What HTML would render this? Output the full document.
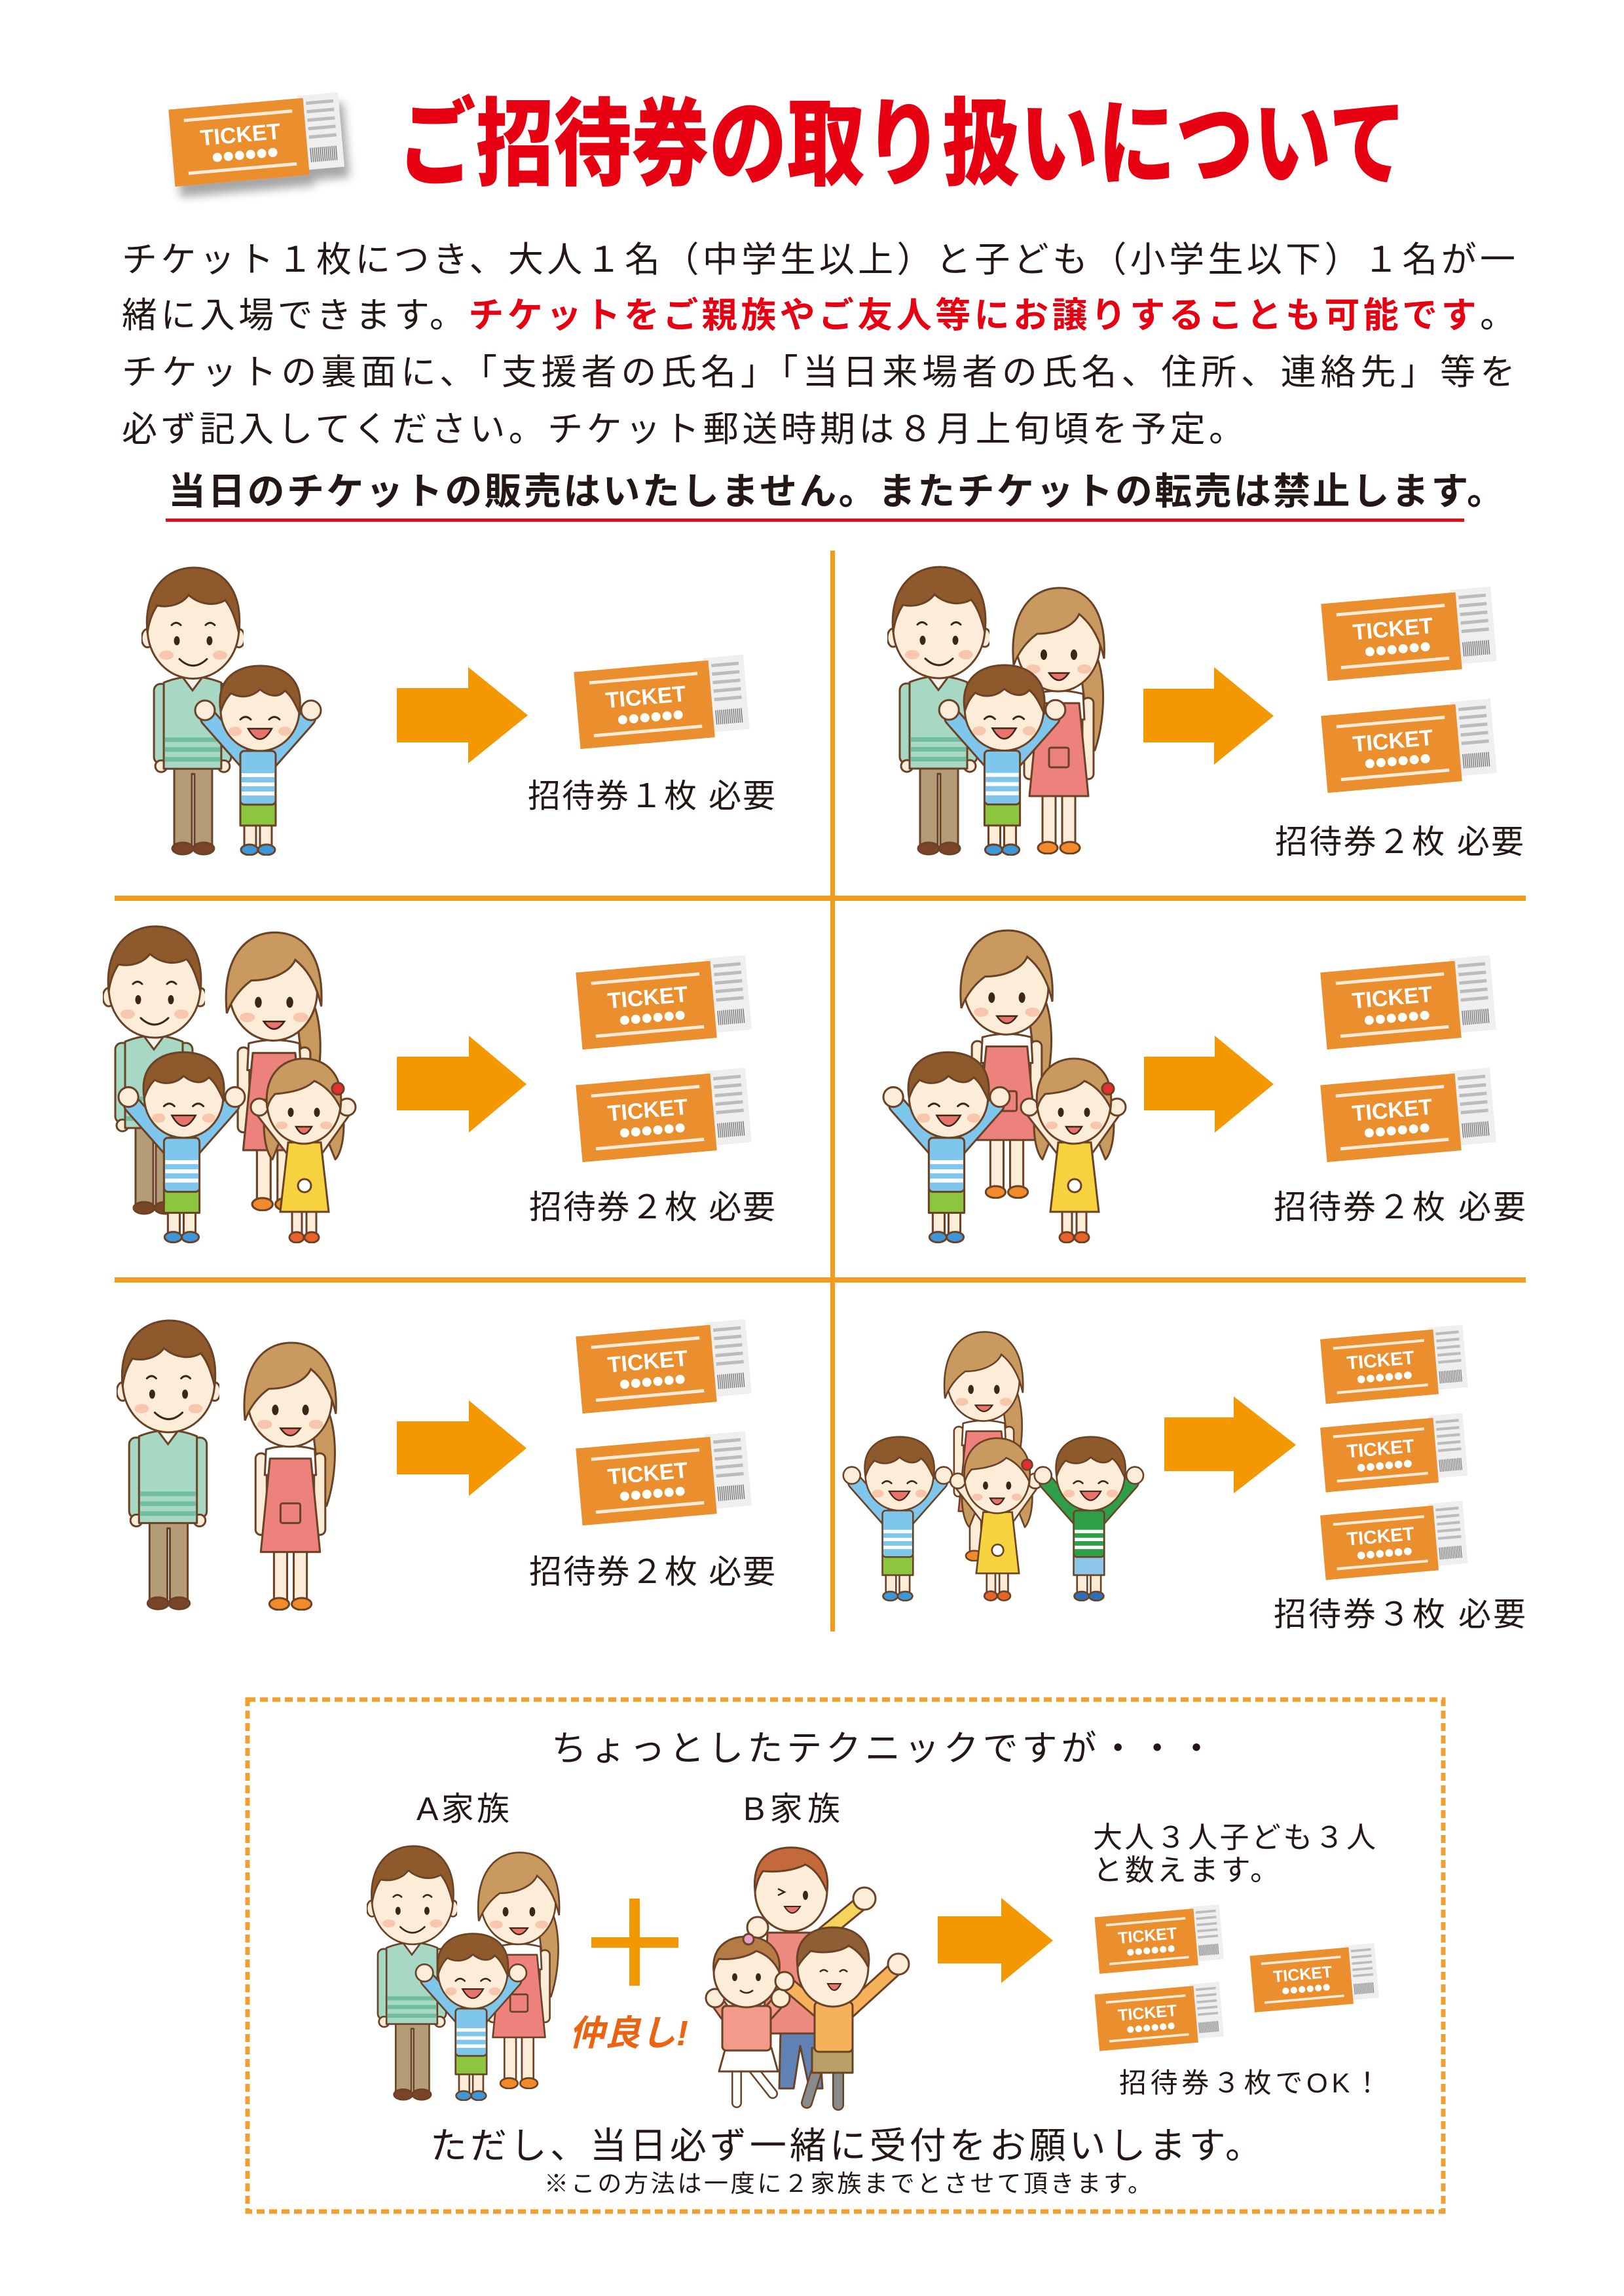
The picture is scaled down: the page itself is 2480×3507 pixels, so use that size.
<!DOCTYPE html>
<html><head><meta charset="utf-8">
<style>
html,body{margin:0;padding:0;background:#fff;}
svg{display:block;}
text{font-family:"Liberation Sans","Noto Sans CJK JP",sans-serif;}
</style></head><body>
<svg width="2480" height="3507" viewBox="0 0 2480 3507" xmlns="http://www.w3.org/2000/svg" xmlns:xlink="http://www.w3.org/1999/xlink">
<defs>
<filter id="sh" x="-20%" y="-30%" width="150%" height="180%"><feDropShadow dx="8" dy="16" stdDeviation="7" flood-color="#000" flood-opacity="0.35"/></filter>

<symbol id="man" viewBox="0 0 156 443">
<g stroke="#6b4226" stroke-width="3" stroke-linejoin="round">
<path d="M50 298H108V428H81V318H77V428H50Z" fill="#b39c76"/>
<ellipse cx="63" cy="432" rx="16" ry="9" fill="#7a4526"/>
<ellipse cx="95" cy="432" rx="16" ry="9" fill="#7a4526"/>
<rect x="19" y="180" width="22" height="122" rx="10" fill="#a6d8c4"/>
<rect x="115" y="180" width="22" height="122" rx="10" fill="#a6d8c4"/>
<circle cx="30" cy="306" r="9" fill="#fdecd8"/>
<circle cx="126" cy="306" r="9" fill="#fdecd8"/>
<path d="M34 178Q78 160 122 178L122 310H34Z" fill="#a6d8c4"/>
</g>
<g fill="#6fbe9f"><rect x="36" y="262" width="84" height="7"/><rect x="36" y="277" width="84" height="7"/><rect x="36" y="292" width="84" height="7"/></g>
<path d="M60 166L78 190L96 166Z" fill="#f5f3ea" stroke="#6b4226" stroke-width="3"/>
<g stroke="#6b4226" stroke-width="3">
<ellipse cx="9" cy="110" rx="9" ry="14" fill="#fdecd8"/>
<ellipse cx="149" cy="110" rx="9" ry="14" fill="#fdecd8"/>
<ellipse cx="79" cy="96" rx="70" ry="76" fill="#fdecd8"/>
<path d="M9 102C2 34 40 2 80 2C122 2 156 34 149 102C144 82 138 64 128 52C110 62 88 58 72 44C62 58 42 64 24 60C16 72 11 86 9 102Z" fill="#8e5a2c"/>
</g>
<g fill="#3e2616"><ellipse cx="54" cy="114" rx="4.5" ry="7"/><ellipse cx="104" cy="114" rx="4.5" ry="7"/></g>
<g fill="#f7c6ad"><ellipse cx="38" cy="136" rx="11" ry="7"/><ellipse cx="120" cy="136" rx="11" ry="7"/></g>
<path d="M58 142Q79 162 100 142M46 90Q53 83 60 90M98 90Q105 83 112 90" fill="none" stroke="#3e2616" stroke-width="3" stroke-linecap="round"/>
</symbol>

<symbol id="woman" viewBox="0 0 154 411">
<g stroke="#6b4226" stroke-width="3" stroke-linejoin="round">
<path d="M116 80C152 110 150 200 132 252C120 220 114 160 108 110Z" fill="#c99a60"/>
<rect x="52" y="316" width="20" height="82" fill="#fdecd8"/>
<rect x="82" y="316" width="20" height="82" fill="#fdecd8"/>
<ellipse cx="60" cy="401" rx="15" ry="9" fill="#f08a2a"/>
<ellipse cx="94" cy="401" rx="15" ry="9" fill="#f08a2a"/>
<rect x="24" y="172" width="17" height="124" rx="8" fill="#fdecd8"/>
<rect x="113" y="172" width="17" height="124" rx="8" fill="#fdecd8"/>
<path d="M40 166Q77 156 114 166L116 205H38Z" fill="#fff"/>
<path d="M46 180H108L122 322H32Z" fill="#ec827b"/>
<rect x="62" y="248" width="30" height="30" rx="3" fill="#ec827b"/>
</g>
<g stroke="#6b4226" stroke-width="3">
<ellipse cx="76" cy="90" rx="64" ry="72" fill="#fdecd8"/>
<path d="M8 122C0 40 36 4 78 4C122 4 150 40 146 112C140 84 128 60 108 44C100 62 74 74 44 74C30 84 16 100 8 122Z" fill="#c99a60"/>
</g>
<g fill="#3e2616"><ellipse cx="54" cy="106" rx="5" ry="8"/><ellipse cx="100" cy="106" rx="5" ry="8"/></g>
<g fill="#f7c6ad"><ellipse cx="38" cy="128" rx="11" ry="7"/><ellipse cx="116" cy="128" rx="11" ry="7"/></g>
<path d="M62 134Q77 156 92 134Z" fill="#e8736c" stroke="#3e2616" stroke-width="2.5"/>
</symbol>

<symbol id="boy" viewBox="0 0 209 294">
<g stroke="#6b4226" stroke-width="3" stroke-linejoin="round">
<rect x="84" y="244" width="18" height="38" fill="#fdecd8"/>
<rect x="108" y="244" width="18" height="38" fill="#fdecd8"/>
<ellipse cx="92" cy="285" rx="13" ry="8" style="fill:var(--sh,#3d97d8)"/>
<ellipse cx="118" cy="285" rx="13" ry="8" style="fill:var(--sh,#3d97d8)"/>
<rect x="78" y="212" width="54" height="36" style="fill:var(--p,#8cc63f)"/>
</g>
<path d="M90 152L30 84M120 152L180 84" stroke="#6b4226" stroke-width="28" stroke-linecap="round"/>
<path d="M90 152L30 84M120 152L180 84" style="stroke:var(--t,#7ec6ec)" stroke-width="22" stroke-linecap="round"/>
<g stroke="#6b4226" stroke-width="3">
<circle cx="24" cy="72" r="15" fill="#fdecd8"/>
<circle cx="186" cy="72" r="15" fill="#fdecd8"/>
<rect x="78" y="134" width="54" height="82" rx="6" style="fill:var(--t,#7ec6ec)"/>
</g>
<g fill="#fff"><rect x="80" y="168" width="50" height="6"/><rect x="80" y="182" width="50" height="6"/><rect x="80" y="196" width="50" height="6"/></g>
<g stroke="#6b4226" stroke-width="3">
<ellipse cx="108" cy="72" rx="60" ry="62" fill="#fdecd8"/>
<path d="M48 74C40 22 74 4 108 4C146 4 176 26 168 76C160 58 154 48 146 42C136 54 120 50 108 40C96 52 78 54 64 46C56 54 52 62 48 74Z" fill="#8e5a2c"/>
</g>
<path d="M78 86Q86 78 94 86M122 86Q130 78 138 86" fill="none" stroke="#3e2616" stroke-width="3" stroke-linecap="round"/>
<g fill="#f7c6ad"><ellipse cx="70" cy="104" rx="10" ry="7"/><ellipse cx="146" cy="104" rx="10" ry="7"/></g>
<path d="M90 100Q108 132 126 100Z" fill="#e8736c" stroke="#3e2616" stroke-width="2.5"/>
</symbol>

<symbol id="girl" viewBox="0 0 170 288">
<g stroke="#6b4226" stroke-width="3" stroke-linejoin="round">
<path d="M34 60C20 110 30 150 40 160L60 110Z" fill="#c99a60"/>
<path d="M142 60C156 110 146 150 136 160L116 110Z" fill="#c99a60"/>
<rect x="70" y="236" width="15" height="40" fill="#fdecd8"/>
<rect x="92" y="236" width="15" height="40" fill="#fdecd8"/>
<ellipse cx="77" cy="279" rx="11" ry="8" fill="#e8632a"/>
<ellipse cx="100" cy="279" rx="11" ry="8" fill="#e8632a"/>
</g>
<path d="M72 150L24 88M106 150L150 88" stroke="#6b4226" stroke-width="20" stroke-linecap="round"/>
<path d="M72 150L24 88M106 150L150 88" stroke="#fdecd8" stroke-width="14" stroke-linecap="round"/>
<g stroke="#6b4226" stroke-width="3">
<circle cx="20" cy="80" r="13" fill="#fdecd8"/>
<circle cx="154" cy="80" r="13" fill="#fdecd8"/>
<path d="M64 134H114L126 240H52Z" fill="#f7d23f"/>
<circle cx="89" cy="200" r="10" fill="#fff"/>
<ellipse cx="88" cy="74" rx="56" ry="62" fill="#fdecd8"/>
<path d="M32 82C26 30 56 6 88 6C122 6 150 30 144 82C136 64 122 48 104 40C92 52 70 58 44 60C38 66 34 74 32 82Z" fill="#c99a60"/>
<circle cx="140" cy="52" r="9" fill="#e0302f"/>
</g>
<g fill="#3e2616"><ellipse cx="68" cy="88" rx="4.5" ry="7"/><ellipse cx="108" cy="88" rx="4.5" ry="7"/></g>
<g fill="#f7c6ad"><ellipse cx="54" cy="108" rx="9" ry="6"/><ellipse cx="122" cy="108" rx="9" ry="6"/></g>
<path d="M76 110Q88 132 100 110Z" fill="#e8736c" stroke="#3e2616" stroke-width="2.5"/>
</symbol>
</defs>

<rect width="2480" height="3507" fill="#fff"/>

<!-- Header ticket -->
<g filter="url(#sh)"><g transform="translate(262,156)"><g transform="rotate(-5 130 60)">
<rect x="198" y="-4" width="62" height="114" fill="#efefef"/>
<g fill="#bcbcbc"><rect x="210" y="6" width="42" height="5"/><rect x="210" y="19" width="42" height="5"/><rect x="210" y="32" width="42" height="5"/><rect x="210" y="45" width="42" height="5"/><rect x="210" y="58" width="42" height="5"/></g>
<line x1="210" y1="88" x2="252" y2="88" stroke="#7a7a7a" stroke-width="22" stroke-dasharray="1.5 1.5"/>
<rect width="206" height="118" fill="#eb8e2e"/>
<rect x="22" y="16" width="166" height="5" fill="#fcebd6"/><rect x="22" y="97" width="166" height="5" fill="#fcebd6"/>
<text x="106" y="59" font-size="34" font-weight="bold" fill="#fff" text-anchor="middle">TICKET</text>
<g fill="#fff"><circle cx="68" cy="79" r="7"/><circle cx="85" cy="79" r="7"/><circle cx="102" cy="79" r="7"/><circle cx="119" cy="79" r="7"/><circle cx="136" cy="79" r="7"/><circle cx="153" cy="79" r="7"/></g>
</g></g></g>

<!-- Title -->
<text x="608" y="271" font-size="146" font-weight="900" fill="#e60012" textLength="1540" lengthAdjust="spacingAndGlyphs">ご招待券の取り扱いについて</text>

<!-- Body text -->
<g fill="#231815" font-size="54">
<text x="186" y="415" textLength="2128">チケット１枚につき、大人１名（中学生以上）と子ども（小学生以下）１名が一</text>
<text x="186" y="500" textLength="2128">緒に入場できます。<tspan fill="#e60012" font-weight="bold">チケットをご親族やご友人等にお譲りすることも可能です</tspan>。</text>
<text x="186" y="587" textLength="2128">チケットの裏面に、「支援者の氏名」「当日来場者の氏名、住所、連絡先」等を</text>
<text x="186" y="674" textLength="1714">必ず記入してください。チケット郵送時期は８月上旬頃を予定。</text>
</g>
<text x="257" y="770" font-size="57" font-weight="bold" fill="#231815" textLength="2040">当日のチケットの販売はいたしません。またチケットの転売は禁止します。</text>
<rect x="253" y="792" width="1983" height="5" fill="#d7141c"/>

<!-- Grid lines -->
<g fill="#f29b1d">
<rect x="1268" y="841" width="7" height="1651"/>
<rect x="175" y="1368" width="2155" height="8"/>
<rect x="175" y="1951" width="2155" height="8"/>
</g>

<!-- Arrows -->
<g fill="#f39800">
<path d="M606 1051H715V1019L806 1092.5L715 1166V1134H606Z"/>
<path d="M1746 1052H1854V1019L1945 1093.5L1854 1168V1134H1746Z"/>
<path d="M606 1614H716V1582L804 1656L716 1730V1696H606Z"/>
<path d="M1747 1614H1855V1582L1945 1656L1855 1730V1696H1747Z"/>
<path d="M606 2171H716V2139L804 2212L716 2285V2252H606Z"/>
<path d="M1778 2165H1884V2133L1979 2207L1884 2281V2247H1778Z"/>
<path d="M1432 2927H1529V2899L1608 2964L1529 3029V2999H1432Z"/>
</g>

<!-- People -->
<use href="#man" x="216" y="865" width="156" height="442"/>
<use href="#boy" x="289" y="1013" width="209" height="294"/>

<use href="#man" x="1355" y="864" width="156" height="443"/>
<use href="#woman" x="1540" y="894" width="154" height="411"/>
<use href="#boy" x="1425" y="1012" width="210" height="295"/>

<use href="#man" x="157" y="1413" width="156" height="443"/>
<use href="#woman" x="338" y="1420" width="161" height="430"/>
<use href="#boy" x="172" y="1603" width="210" height="296"/>
<use href="#girl" x="376" y="1611" width="170" height="288"/>

<use href="#woman" x="1460" y="1417" width="155" height="414"/>
<use href="#boy" x="1340" y="1603" width="210" height="296"/>
<use href="#girl" x="1552" y="1611" width="170" height="288"/>

<use href="#man" x="178" y="2015" width="157" height="445"/>
<use href="#woman" x="366" y="2047" width="155" height="413"/>

<use href="#woman" x="1436" y="2031" width="133" height="354"/>
<use href="#boy" x="1280" y="2191" width="181" height="255"/>
<use href="#girl" x="1445" y="2191" width="150" height="255"/>
<use href="#boy" x="1572" y="2191" width="181" height="255" style="--t:#2e9e48;--p:#8ec6ea;--sh:#2f6fb8"/>

<use href="#man" x="560" y="2818" width="138" height="391"/>
<use href="#woman" x="724" y="2826" width="137" height="365"/>
<use href="#boy" x="627" y="2950" width="184" height="259"/>

<!-- B family -->
<g stroke="#6b4226" stroke-width="3" stroke-linejoin="round" stroke-linecap="round">
<path d="M1248 2962L1316 2906" stroke-width="24"/>
<path d="M1248 2962L1316 2906" stroke="#f6d35a" stroke-width="18"/>
<circle cx="1320" cy="2900" r="17" fill="#fdecd8"/>
<path d="M1192 3100H1250L1256 3190H1236L1222 3125L1212 3190H1190Z" fill="#6182b5"/>
<path d="M1172 2952H1252L1260 3106H1166Z" fill="#ee8b80"/>
<circle cx="1157" cy="2944" r="16" fill="#fdecd8"/>
<ellipse cx="1208" cy="2888" rx="55" ry="62" fill="#fdecd8"/>
<path d="M1153 2890C1148 2840 1175 2822 1208 2822C1245 2822 1268 2845 1263 2890C1255 2870 1245 2855 1230 2848C1210 2858 1185 2860 1165 2858C1158 2868 1155 2878 1153 2890Z" fill="#c4693c"/>
<path d="M1125 3160V3212M1150 3160L1180 3198" stroke-width="16"/>
<path d="M1125 3160V3212M1150 3160L1180 3198" stroke="#fff" stroke-width="11"/>
<path d="M1108 3128H1178L1188 3164H1098Z" fill="#fff"/>
<path d="M1108 3076L1094 3056M1172 3076L1190 3056" stroke-width="22"/>
<path d="M1108 3076L1094 3056M1172 3076L1190 3056" stroke="#f29b8b" stroke-width="16"/>
<rect x="1103" y="3064" width="74" height="68" rx="6" fill="#f29b8b"/>
<circle cx="1092" cy="3052" r="14" fill="#fdecd8"/>
<circle cx="1192" cy="3052" r="14" fill="#fdecd8"/>
<ellipse cx="1140" cy="3012" rx="50" ry="54" fill="#fdecd8"/>
<path d="M1090 3012C1086 2975 1110 2958 1140 2958C1172 2958 1194 2978 1190 3012C1182 2995 1170 2985 1155 2980C1140 2990 1115 2994 1098 2992C1094 2998 1091 3005 1090 3012Z" fill="#b67a45"/>
<circle cx="1143" cy="2962" r="8" fill="#e9a0c8"/>
<path d="M1248 3160L1232 3212M1280 3160V3215" stroke-width="18"/>
<path d="M1248 3160L1232 3212M1280 3160V3215" stroke="#8a8a8a" stroke-width="13"/>
<rect x="1240" y="3128" width="62" height="38" fill="#b9a068"/>
<path d="M1256 3076L1202 3030M1296 3072L1366 3008" stroke-width="24"/>
<path d="M1256 3076L1202 3030M1296 3072L1366 3008" stroke="#f5b25a" stroke-width="18"/>
<circle cx="1198" cy="3026" r="14" fill="#fdecd8"/>
<circle cx="1372" cy="3000" r="16" fill="#fdecd8"/>
<rect x="1244" y="3058" width="58" height="76" rx="6" fill="#f5b25a"/>
<ellipse cx="1272" cy="3005" rx="54" ry="60" fill="#fdecd8"/>
<path d="M1218 3005C1212 2962 1240 2944 1272 2944C1308 2944 1332 2966 1326 3005C1318 2988 1308 2978 1296 2972C1282 2982 1258 2984 1238 2980C1230 2988 1222 2996 1218 3005Z" fill="#8e5f34"/>
</g>
<g fill="#3e2616">
<ellipse cx="1230" cy="2895" rx="4" ry="7"/><ellipse cx="1122" cy="3020" rx="4" ry="6"/><ellipse cx="1158" cy="3020" rx="4" ry="6"/>
</g>
<path d="M1188 2895L1198 2890L1188 2885M1252 3012Q1258 3006 1264 3012M1282 3012Q1288 3006 1294 3012M1130 3040Q1140 3048 1150 3040" fill="none" stroke="#3e2616" stroke-width="2.5"/>
<path d="M1198 2912Q1210 2932 1222 2912Z" fill="#e8736c" stroke="#3e2616" stroke-width="2"/>
<path d="M1264 3030Q1274 3050 1284 3030Z" fill="#e8736c" stroke="#3e2616" stroke-width="2"/>

<!-- Tickets -->
<g id="tk1" transform="translate(881,1015)"><g transform="rotate(-5 130 60)">
<rect x="198" y="-4" width="62" height="114" fill="#efefef"/>
<g fill="#bcbcbc"><rect x="210" y="6" width="42" height="5"/><rect x="210" y="19" width="42" height="5"/><rect x="210" y="32" width="42" height="5"/><rect x="210" y="45" width="42" height="5"/><rect x="210" y="58" width="42" height="5"/></g>
<line x1="210" y1="88" x2="252" y2="88" stroke="#7a7a7a" stroke-width="22" stroke-dasharray="1.5 1.5"/>
<rect width="206" height="118" fill="#eb8e2e"/>
<rect x="22" y="16" width="166" height="5" fill="#fcebd6"/><rect x="22" y="97" width="166" height="5" fill="#fcebd6"/>
<text x="106" y="59" font-size="34" font-weight="bold" fill="#fff" text-anchor="middle">TICKET</text>
<g fill="#fff"><circle cx="68" cy="79" r="7"/><circle cx="85" cy="79" r="7"/><circle cx="102" cy="79" r="7"/><circle cx="119" cy="79" r="7"/><circle cx="136" cy="79" r="7"/><circle cx="153" cy="79" r="7"/></g>
</g></g>

<g transform="translate(2022,911)"><g transform="rotate(-5 130 60)">
<rect x="198" y="-4" width="62" height="114" fill="#efefef"/>
<g fill="#bcbcbc"><rect x="210" y="6" width="42" height="5"/><rect x="210" y="19" width="42" height="5"/><rect x="210" y="32" width="42" height="5"/><rect x="210" y="45" width="42" height="5"/><rect x="210" y="58" width="42" height="5"/></g>
<line x1="210" y1="88" x2="252" y2="88" stroke="#7a7a7a" stroke-width="22" stroke-dasharray="1.5 1.5"/>
<rect width="206" height="118" fill="#eb8e2e"/>
<rect x="22" y="16" width="166" height="5" fill="#fcebd6"/><rect x="22" y="97" width="166" height="5" fill="#fcebd6"/>
<text x="106" y="59" font-size="34" font-weight="bold" fill="#fff" text-anchor="middle">TICKET</text>
<g fill="#fff"><circle cx="68" cy="79" r="7"/><circle cx="85" cy="79" r="7"/><circle cx="102" cy="79" r="7"/><circle cx="119" cy="79" r="7"/><circle cx="136" cy="79" r="7"/><circle cx="153" cy="79" r="7"/></g>
</g></g>

<g transform="translate(2022,1082)"><g transform="rotate(-5 130 60)">
<rect x="198" y="-4" width="62" height="114" fill="#efefef"/>
<g fill="#bcbcbc"><rect x="210" y="6" width="42" height="5"/><rect x="210" y="19" width="42" height="5"/><rect x="210" y="32" width="42" height="5"/><rect x="210" y="45" width="42" height="5"/><rect x="210" y="58" width="42" height="5"/></g>
<line x1="210" y1="88" x2="252" y2="88" stroke="#7a7a7a" stroke-width="22" stroke-dasharray="1.5 1.5"/>
<rect width="206" height="118" fill="#eb8e2e"/>
<rect x="22" y="16" width="166" height="5" fill="#fcebd6"/><rect x="22" y="97" width="166" height="5" fill="#fcebd6"/>
<text x="106" y="59" font-size="34" font-weight="bold" fill="#fff" text-anchor="middle">TICKET</text>
<g fill="#fff"><circle cx="68" cy="79" r="7"/><circle cx="85" cy="79" r="7"/><circle cx="102" cy="79" r="7"/><circle cx="119" cy="79" r="7"/><circle cx="136" cy="79" r="7"/><circle cx="153" cy="79" r="7"/></g>
</g></g>

<g transform="translate(884,1474)"><g transform="rotate(-5 130 60)">
<rect x="198" y="-4" width="62" height="114" fill="#efefef"/>
<g fill="#bcbcbc"><rect x="210" y="6" width="42" height="5"/><rect x="210" y="19" width="42" height="5"/><rect x="210" y="32" width="42" height="5"/><rect x="210" y="45" width="42" height="5"/><rect x="210" y="58" width="42" height="5"/></g>
<line x1="210" y1="88" x2="252" y2="88" stroke="#7a7a7a" stroke-width="22" stroke-dasharray="1.5 1.5"/>
<rect width="206" height="118" fill="#eb8e2e"/>
<rect x="22" y="16" width="166" height="5" fill="#fcebd6"/><rect x="22" y="97" width="166" height="5" fill="#fcebd6"/>
<text x="106" y="59" font-size="34" font-weight="bold" fill="#fff" text-anchor="middle">TICKET</text>
<g fill="#fff"><circle cx="68" cy="79" r="7"/><circle cx="85" cy="79" r="7"/><circle cx="102" cy="79" r="7"/><circle cx="119" cy="79" r="7"/><circle cx="136" cy="79" r="7"/><circle cx="153" cy="79" r="7"/></g>
</g></g>

<g transform="translate(884,1646)"><g transform="rotate(-5 130 60)">
<rect x="198" y="-4" width="62" height="114" fill="#efefef"/>
<g fill="#bcbcbc"><rect x="210" y="6" width="42" height="5"/><rect x="210" y="19" width="42" height="5"/><rect x="210" y="32" width="42" height="5"/><rect x="210" y="45" width="42" height="5"/><rect x="210" y="58" width="42" height="5"/></g>
<line x1="210" y1="88" x2="252" y2="88" stroke="#7a7a7a" stroke-width="22" stroke-dasharray="1.5 1.5"/>
<rect width="206" height="118" fill="#eb8e2e"/>
<rect x="22" y="16" width="166" height="5" fill="#fcebd6"/><rect x="22" y="97" width="166" height="5" fill="#fcebd6"/>
<text x="106" y="59" font-size="34" font-weight="bold" fill="#fff" text-anchor="middle">TICKET</text>
<g fill="#fff"><circle cx="68" cy="79" r="7"/><circle cx="85" cy="79" r="7"/><circle cx="102" cy="79" r="7"/><circle cx="119" cy="79" r="7"/><circle cx="136" cy="79" r="7"/><circle cx="153" cy="79" r="7"/></g>
</g></g>

<g transform="translate(2021,1474)"><g transform="rotate(-5 130 60)">
<rect x="198" y="-4" width="62" height="114" fill="#efefef"/>
<g fill="#bcbcbc"><rect x="210" y="6" width="42" height="5"/><rect x="210" y="19" width="42" height="5"/><rect x="210" y="32" width="42" height="5"/><rect x="210" y="45" width="42" height="5"/><rect x="210" y="58" width="42" height="5"/></g>
<line x1="210" y1="88" x2="252" y2="88" stroke="#7a7a7a" stroke-width="22" stroke-dasharray="1.5 1.5"/>
<rect width="206" height="118" fill="#eb8e2e"/>
<rect x="22" y="16" width="166" height="5" fill="#fcebd6"/><rect x="22" y="97" width="166" height="5" fill="#fcebd6"/>
<text x="106" y="59" font-size="34" font-weight="bold" fill="#fff" text-anchor="middle">TICKET</text>
<g fill="#fff"><circle cx="68" cy="79" r="7"/><circle cx="85" cy="79" r="7"/><circle cx="102" cy="79" r="7"/><circle cx="119" cy="79" r="7"/><circle cx="136" cy="79" r="7"/><circle cx="153" cy="79" r="7"/></g>
</g></g>

<g transform="translate(2021,1646)"><g transform="rotate(-5 130 60)">
<rect x="198" y="-4" width="62" height="114" fill="#efefef"/>
<g fill="#bcbcbc"><rect x="210" y="6" width="42" height="5"/><rect x="210" y="19" width="42" height="5"/><rect x="210" y="32" width="42" height="5"/><rect x="210" y="45" width="42" height="5"/><rect x="210" y="58" width="42" height="5"/></g>
<line x1="210" y1="88" x2="252" y2="88" stroke="#7a7a7a" stroke-width="22" stroke-dasharray="1.5 1.5"/>
<rect width="206" height="118" fill="#eb8e2e"/>
<rect x="22" y="16" width="166" height="5" fill="#fcebd6"/><rect x="22" y="97" width="166" height="5" fill="#fcebd6"/>
<text x="106" y="59" font-size="34" font-weight="bold" fill="#fff" text-anchor="middle">TICKET</text>
<g fill="#fff"><circle cx="68" cy="79" r="7"/><circle cx="85" cy="79" r="7"/><circle cx="102" cy="79" r="7"/><circle cx="119" cy="79" r="7"/><circle cx="136" cy="79" r="7"/><circle cx="153" cy="79" r="7"/></g>
</g></g>

<g transform="translate(884,2030)"><g transform="rotate(-5 130 60)">
<rect x="198" y="-4" width="62" height="114" fill="#efefef"/>
<g fill="#bcbcbc"><rect x="210" y="6" width="42" height="5"/><rect x="210" y="19" width="42" height="5"/><rect x="210" y="32" width="42" height="5"/><rect x="210" y="45" width="42" height="5"/><rect x="210" y="58" width="42" height="5"/></g>
<line x1="210" y1="88" x2="252" y2="88" stroke="#7a7a7a" stroke-width="22" stroke-dasharray="1.5 1.5"/>
<rect width="206" height="118" fill="#eb8e2e"/>
<rect x="22" y="16" width="166" height="5" fill="#fcebd6"/><rect x="22" y="97" width="166" height="5" fill="#fcebd6"/>
<text x="106" y="59" font-size="34" font-weight="bold" fill="#fff" text-anchor="middle">TICKET</text>
<g fill="#fff"><circle cx="68" cy="79" r="7"/><circle cx="85" cy="79" r="7"/><circle cx="102" cy="79" r="7"/><circle cx="119" cy="79" r="7"/><circle cx="136" cy="79" r="7"/><circle cx="153" cy="79" r="7"/></g>
</g></g>

<g transform="translate(884,2201)"><g transform="rotate(-5 130 60)">
<rect x="198" y="-4" width="62" height="114" fill="#efefef"/>
<g fill="#bcbcbc"><rect x="210" y="6" width="42" height="5"/><rect x="210" y="19" width="42" height="5"/><rect x="210" y="32" width="42" height="5"/><rect x="210" y="45" width="42" height="5"/><rect x="210" y="58" width="42" height="5"/></g>
<line x1="210" y1="88" x2="252" y2="88" stroke="#7a7a7a" stroke-width="22" stroke-dasharray="1.5 1.5"/>
<rect width="206" height="118" fill="#eb8e2e"/>
<rect x="22" y="16" width="166" height="5" fill="#fcebd6"/><rect x="22" y="97" width="166" height="5" fill="#fcebd6"/>
<text x="106" y="59" font-size="34" font-weight="bold" fill="#fff" text-anchor="middle">TICKET</text>
<g fill="#fff"><circle cx="68" cy="79" r="7"/><circle cx="85" cy="79" r="7"/><circle cx="102" cy="79" r="7"/><circle cx="119" cy="79" r="7"/><circle cx="136" cy="79" r="7"/><circle cx="153" cy="79" r="7"/></g>
</g></g>

<g transform="translate(2020,2036) scale(0.84)"><g transform="rotate(-5 130 60)">
<rect x="198" y="-4" width="62" height="114" fill="#efefef"/>
<g fill="#bcbcbc"><rect x="210" y="6" width="42" height="5"/><rect x="210" y="19" width="42" height="5"/><rect x="210" y="32" width="42" height="5"/><rect x="210" y="45" width="42" height="5"/><rect x="210" y="58" width="42" height="5"/></g>
<line x1="210" y1="88" x2="252" y2="88" stroke="#7a7a7a" stroke-width="22" stroke-dasharray="1.5 1.5"/>
<rect width="206" height="118" fill="#eb8e2e"/>
<rect x="22" y="16" width="166" height="5" fill="#fcebd6"/><rect x="22" y="97" width="166" height="5" fill="#fcebd6"/>
<text x="106" y="59" font-size="34" font-weight="bold" fill="#fff" text-anchor="middle">TICKET</text>
<g fill="#fff"><circle cx="68" cy="79" r="7"/><circle cx="85" cy="79" r="7"/><circle cx="102" cy="79" r="7"/><circle cx="119" cy="79" r="7"/><circle cx="136" cy="79" r="7"/><circle cx="153" cy="79" r="7"/></g>
</g></g>

<g transform="translate(2020,2171) scale(0.84)"><g transform="rotate(-5 130 60)">
<rect x="198" y="-4" width="62" height="114" fill="#efefef"/>
<g fill="#bcbcbc"><rect x="210" y="6" width="42" height="5"/><rect x="210" y="19" width="42" height="5"/><rect x="210" y="32" width="42" height="5"/><rect x="210" y="45" width="42" height="5"/><rect x="210" y="58" width="42" height="5"/></g>
<line x1="210" y1="88" x2="252" y2="88" stroke="#7a7a7a" stroke-width="22" stroke-dasharray="1.5 1.5"/>
<rect width="206" height="118" fill="#eb8e2e"/>
<rect x="22" y="16" width="166" height="5" fill="#fcebd6"/><rect x="22" y="97" width="166" height="5" fill="#fcebd6"/>
<text x="106" y="59" font-size="34" font-weight="bold" fill="#fff" text-anchor="middle">TICKET</text>
<g fill="#fff"><circle cx="68" cy="79" r="7"/><circle cx="85" cy="79" r="7"/><circle cx="102" cy="79" r="7"/><circle cx="119" cy="79" r="7"/><circle cx="136" cy="79" r="7"/><circle cx="153" cy="79" r="7"/></g>
</g></g>

<g transform="translate(2020,2305) scale(0.84)"><g transform="rotate(-5 130 60)">
<rect x="198" y="-4" width="62" height="114" fill="#efefef"/>
<g fill="#bcbcbc"><rect x="210" y="6" width="42" height="5"/><rect x="210" y="19" width="42" height="5"/><rect x="210" y="32" width="42" height="5"/><rect x="210" y="45" width="42" height="5"/><rect x="210" y="58" width="42" height="5"/></g>
<line x1="210" y1="88" x2="252" y2="88" stroke="#7a7a7a" stroke-width="22" stroke-dasharray="1.5 1.5"/>
<rect width="206" height="118" fill="#eb8e2e"/>
<rect x="22" y="16" width="166" height="5" fill="#fcebd6"/><rect x="22" y="97" width="166" height="5" fill="#fcebd6"/>
<text x="106" y="59" font-size="34" font-weight="bold" fill="#fff" text-anchor="middle">TICKET</text>
<g fill="#fff"><circle cx="68" cy="79" r="7"/><circle cx="85" cy="79" r="7"/><circle cx="102" cy="79" r="7"/><circle cx="119" cy="79" r="7"/><circle cx="136" cy="79" r="7"/><circle cx="153" cy="79" r="7"/></g>
</g></g>

<g transform="translate(1675,2920) scale(0.735)"><g transform="rotate(-5 130 60)">
<rect x="198" y="-4" width="62" height="114" fill="#efefef"/>
<g fill="#bcbcbc"><rect x="210" y="6" width="42" height="5"/><rect x="210" y="19" width="42" height="5"/><rect x="210" y="32" width="42" height="5"/><rect x="210" y="45" width="42" height="5"/><rect x="210" y="58" width="42" height="5"/></g>
<line x1="210" y1="88" x2="252" y2="88" stroke="#7a7a7a" stroke-width="22" stroke-dasharray="1.5 1.5"/>
<rect width="206" height="118" fill="#eb8e2e"/>
<rect x="22" y="16" width="166" height="5" fill="#fcebd6"/><rect x="22" y="97" width="166" height="5" fill="#fcebd6"/>
<text x="106" y="59" font-size="34" font-weight="bold" fill="#fff" text-anchor="middle">TICKET</text>
<g fill="#fff"><circle cx="68" cy="79" r="7"/><circle cx="85" cy="79" r="7"/><circle cx="102" cy="79" r="7"/><circle cx="119" cy="79" r="7"/><circle cx="136" cy="79" r="7"/><circle cx="153" cy="79" r="7"/></g>
</g></g>

<g transform="translate(1675,3038) scale(0.735)"><g transform="rotate(-5 130 60)">
<rect x="198" y="-4" width="62" height="114" fill="#efefef"/>
<g fill="#bcbcbc"><rect x="210" y="6" width="42" height="5"/><rect x="210" y="19" width="42" height="5"/><rect x="210" y="32" width="42" height="5"/><rect x="210" y="45" width="42" height="5"/><rect x="210" y="58" width="42" height="5"/></g>
<line x1="210" y1="88" x2="252" y2="88" stroke="#7a7a7a" stroke-width="22" stroke-dasharray="1.5 1.5"/>
<rect width="206" height="118" fill="#eb8e2e"/>
<rect x="22" y="16" width="166" height="5" fill="#fcebd6"/><rect x="22" y="97" width="166" height="5" fill="#fcebd6"/>
<text x="106" y="59" font-size="34" font-weight="bold" fill="#fff" text-anchor="middle">TICKET</text>
<g fill="#fff"><circle cx="68" cy="79" r="7"/><circle cx="85" cy="79" r="7"/><circle cx="102" cy="79" r="7"/><circle cx="119" cy="79" r="7"/><circle cx="136" cy="79" r="7"/><circle cx="153" cy="79" r="7"/></g>
</g></g>

<g transform="translate(1912,2979) scale(0.735)"><g transform="rotate(-5 130 60)">
<rect x="198" y="-4" width="62" height="114" fill="#efefef"/>
<g fill="#bcbcbc"><rect x="210" y="6" width="42" height="5"/><rect x="210" y="19" width="42" height="5"/><rect x="210" y="32" width="42" height="5"/><rect x="210" y="45" width="42" height="5"/><rect x="210" y="58" width="42" height="5"/></g>
<line x1="210" y1="88" x2="252" y2="88" stroke="#7a7a7a" stroke-width="22" stroke-dasharray="1.5 1.5"/>
<rect width="206" height="118" fill="#eb8e2e"/>
<rect x="22" y="16" width="166" height="5" fill="#fcebd6"/><rect x="22" y="97" width="166" height="5" fill="#fcebd6"/>
<text x="106" y="59" font-size="34" font-weight="bold" fill="#fff" text-anchor="middle">TICKET</text>
<g fill="#fff"><circle cx="68" cy="79" r="7"/><circle cx="85" cy="79" r="7"/><circle cx="102" cy="79" r="7"/><circle cx="119" cy="79" r="7"/><circle cx="136" cy="79" r="7"/><circle cx="153" cy="79" r="7"/></g>
</g></g>

<!-- Cell labels -->
<g fill="#231815" font-size="50">
<text x="806" y="1233" textLength="378">招待券１枚 必要</text>
<text x="1947" y="1303" textLength="380">招待券２枚 必要</text>
<text x="808" y="1861" textLength="376">招待券２枚 必要</text>
<text x="1945" y="1861" textLength="385">招待券２枚 必要</text>
<text x="808" y="2418" textLength="376">招待券２枚 必要</text>
<text x="1945" y="2483" textLength="385">招待券３枚 必要</text>
</g>

<!-- Dashed box -->
<rect x="378" y="2596" width="1826" height="782" fill="none" stroke="#f0a030" stroke-width="7" stroke-dasharray="12 7"/>

<!-- Plus -->
<g fill="#f39800">
<rect x="961" y="2900" width="16" height="133"/>
<rect x="903" y="2959" width="133" height="16"/>
</g>

<!-- Box texts -->
<g fill="#231815">
<text x="842" y="2689" font-size="54" textLength="1012">ちょっとしたテクニックですが・・・</text>
<text x="636" y="2780" font-size="50" textLength="142">A家族</text>
<text x="1135" y="2780" font-size="50" textLength="148">B家族</text>
<text x="1669" y="2822" font-size="45" textLength="432">大人３人子ども３人</text>
<text x="1669" y="2872" font-size="45" textLength="285">と数えます。</text>
<text x="1709" y="3196" font-size="42" textLength="400">招待券３枚でOK！</text>
<text x="657" y="3297" font-size="56" textLength="1270">ただし、当日必ず一緒に受付をお願いします。</text>
<text x="831" y="3348" font-size="37" textLength="928">※この方法は一度に２家族までとさせて頂きます。</text>
</g>
<text x="869" y="3124" font-size="54" font-weight="bold" font-style="italic" fill="#ea6414" textLength="182">仲良し!</text>

</svg>
</body></html>
